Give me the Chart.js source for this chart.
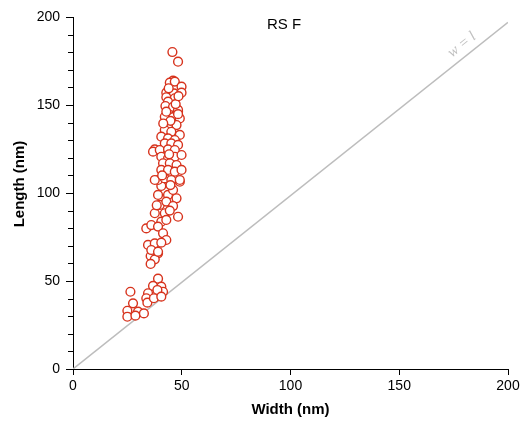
<!DOCTYPE html>
<html>
<head>
<meta charset="utf-8">
<script src="https://cdn.jsdelivr.net/npm/chart.js@4"></script>
<style>
  html, body { margin: 0; padding: 0; background: #fff; }
  #wrap { width: 531px; height: 424px; }
</style>
</head>
<body>
<div id="wrap"><canvas id="chart" width="531" height="424"></canvas></div>
<script>
// width / length pairs (nm)
const widths = [
  35.7, 39.1, 37.6, 35.7, 39.1, 36.8, 40.6, 41.4, 38.8, 34.5, 33.7, 34.2, 37.2, 40.6,
  26.4, 27.6, 25.0, 25.0, 29.9, 28.7, 32.6,
  40.6, 39.1, 43.7, 47.6, 46.0, 49.1, 39.9, 42.9, 46.0, 37.6, 42.2, 48.3, 40.6, 42.9,
  33.7, 36.0, 39.1, 41.4, 42.9, 34.5, 37.6, 40.6, 36.0, 39.1,
  43.7, 48.3, 42.2, 46.0, 49.1, 43.7, 47.6, 42.2, 45.2, 49.1, 40.6, 43.7, 46.8, 42.2,
  45.2, 48.3, 37.6, 36.8, 39.9, 43.7, 46.8, 40.6, 43.7, 46.8, 49.9, 41.4, 44.5, 47.6,
  40.6, 43.7, 46.8, 49.9, 39.1, 42.2, 45.2, 49.1, 37.6,
  45.7, 48.3, 46.0, 44.5, 46.8, 49.9, 42.9, 46.4, 49.9, 42.9, 46.8, 43.7, 42.5, 46.0,
  48.3, 42.9, 48.3, 44.8, 41.5, 47.2, 44.0, 48.5, 44.2, 41.0, 44.8, 38.5, 44.5
];
const lengths = [
  64.2, 65.7, 62.3, 59.7, 51.3, 47.2, 46.8, 43.9, 44.9, 43.0, 40.2, 37.7, 40.2, 41.1,
  43.9, 37.3, 33.1, 29.7, 32.6, 30.3, 31.6,
  104.0, 98.9, 98.9, 97.0, 101.7, 106.4, 93.2, 95.1, 92.6, 88.5, 88.5, 86.5, 83.7, 84.7,
  79.9, 81.8, 80.9, 77.1, 73.3, 70.5, 71.4, 71.8, 67.6, 66.6,
  146.2, 146.2, 143.3, 143.0, 142.4, 137.7, 138.6, 135.8, 134.8, 133.0, 132.0, 131.0, 130.1, 128.2,
  128.2, 127.3, 124.8, 123.5, 124.4, 124.8, 124.4, 120.6, 119.7, 120.6, 121.6, 116.9, 116.9, 115.9,
  113.1, 113.1, 112.1, 113.1, 107.4, 108.3, 107.4, 107.4, 107.4,
  180.1, 174.6, 163.8, 162.7, 163.3, 160.4, 157.0, 156.6, 157.0, 154.4, 153.8, 151.9, 149.4, 149.0,
  147.2, 146.2, 144.8, 141.0, 139.5, 150.5, 159.5, 155.0, 122.0, 110.0, 104.5, 93.0, 90.0
];

// reference line w = l
const lineX = [0, 200];
const lineY = [0, 197];

const xTicks = [0, 50, 100, 150, 200];
const yTicks = [0, 50, 100, 150, 200];
const yMinor = [10, 20, 30, 40, 60, 70, 80, 90, 110, 120, 130, 140, 160, 170, 180, 190];

const points = widths.map((w, i) => ({ x: w, y: lengths[i] }));
const refLine = lineX.map((x, i) => ({ x: x, y: lineY[i] }));

// texte hors axes : titre, titres d'axe, petites graduations et étiquette de la diagonale
const textPlugin = {
  id: "texts",
  afterDraw(chart) {
    const ctx = chart.ctx;
    const xs = chart.scales.x;
    const ys = chart.scales.y;
    ctx.save();

    // petites graduations (plus courtes)
    ctx.strokeStyle = "#000";
    ctx.lineWidth = 1;
    ctx.beginPath();
    yMinor.forEach(v => {
      const y = Math.round(ys.getPixelForValue(v)) + 0.5;
      ctx.moveTo(ys.right - 5, y);
      ctx.lineTo(ys.right, y);
    });
    ctx.stroke();

    ctx.fillStyle = "#000";
    ctx.textAlign = "center";
    ctx.textBaseline = "middle";
    ctx.font = "15px 'Liberation Sans', Arial, sans-serif";
    ctx.fillText("RS F", 284, 25);

    ctx.font = "bold 15px 'Liberation Sans', Arial, sans-serif";
    ctx.fillText("Width (nm)", (xs.left + xs.right) / 2, 410);

    ctx.save();
    ctx.translate(20, 184);
    ctx.rotate(-Math.PI / 2);
    ctx.fillText("Length (nm)", 0, 0);
    ctx.restore();

    // étiquette w = l le long de la diagonale
    const px = xs.getPixelForValue(182);
    const py = ys.getPixelForValue(182 * lineY[1] / lineX[1]);
    const ang = Math.atan2(ys.getPixelForValue(lineY[1]) - ys.getPixelForValue(0),
                           xs.getPixelForValue(lineX[1]) - xs.getPixelForValue(0));
    ctx.translate(px, py);
    ctx.rotate(ang);
    ctx.fillStyle = "#c0c0c0";
    ctx.font = "italic 15px 'Liberation Serif', 'DejaVu Serif', serif";
    ctx.fillText("w = l", 0, -11);
    ctx.restore();
  }
};

new Chart(document.getElementById("chart"), {
  type: "scatter",
  data: {
    datasets: [
      {
        data: points,
        borderColor: "#d7331d",
        backgroundColor: "#ffffff",
        borderWidth: 1.4,
        pointRadius: 4.4,
        pointHoverRadius: 4.4
      },
      {
        type: "line",
        data: refLine,
        borderColor: "#bdbdbd",
        borderWidth: 1.5,
        pointRadius: 0,
        fill: false
      }
    ]
  },
  options: {
    responsive: false,
    animation: false,
    layout: { padding: { top: 17, right: 23, left: 0, bottom: 0 } },
    plugins: {
      legend: { display: false },
      tooltip: { enabled: false }
    },
    scales: {
      x: {
        type: "linear",
        min: 0,
        max: 200,
        afterBuildTicks: s => { s.ticks = xTicks.map(v => ({ value: v })); },
        afterFit: s => { s.height = 55; },
        ticks: {
          color: "#000",
          font: { family: "'Liberation Sans', Arial, sans-serif", size: 14 },
          padding: 3,
          maxRotation: 0
        },
        grid: { drawOnChartArea: false, tickLength: 6, color: "#000" },
        border: { display: true, color: "#000", width: 1 }
      },
      y: {
        type: "linear",
        min: 0,
        max: 200,
        afterBuildTicks: s => {
          const t = [];
          for (let v = 0; v <= 200; v += 10) t.push({ value: v });
          s.ticks = t;
        },
        afterFit: s => { s.width = 73; },
        ticks: {
          color: "#000",
          autoSkip: false,
          font: { family: "'Liberation Sans', Arial, sans-serif", size: 14 },
          padding: 6,
          callback: v => (yTicks.includes(v) ? v : "")
        },
        grid: {
          drawOnChartArea: false,
          tickLength: 7,
          color: c => (yTicks.includes(c.tick && c.tick.value) ? "#000" : "rgba(0,0,0,0)")
        },
        border: { display: true, color: "#000", width: 1 }
      }
    }
  },
  plugins: [textPlugin]
});
</script>
</body>
</html>
